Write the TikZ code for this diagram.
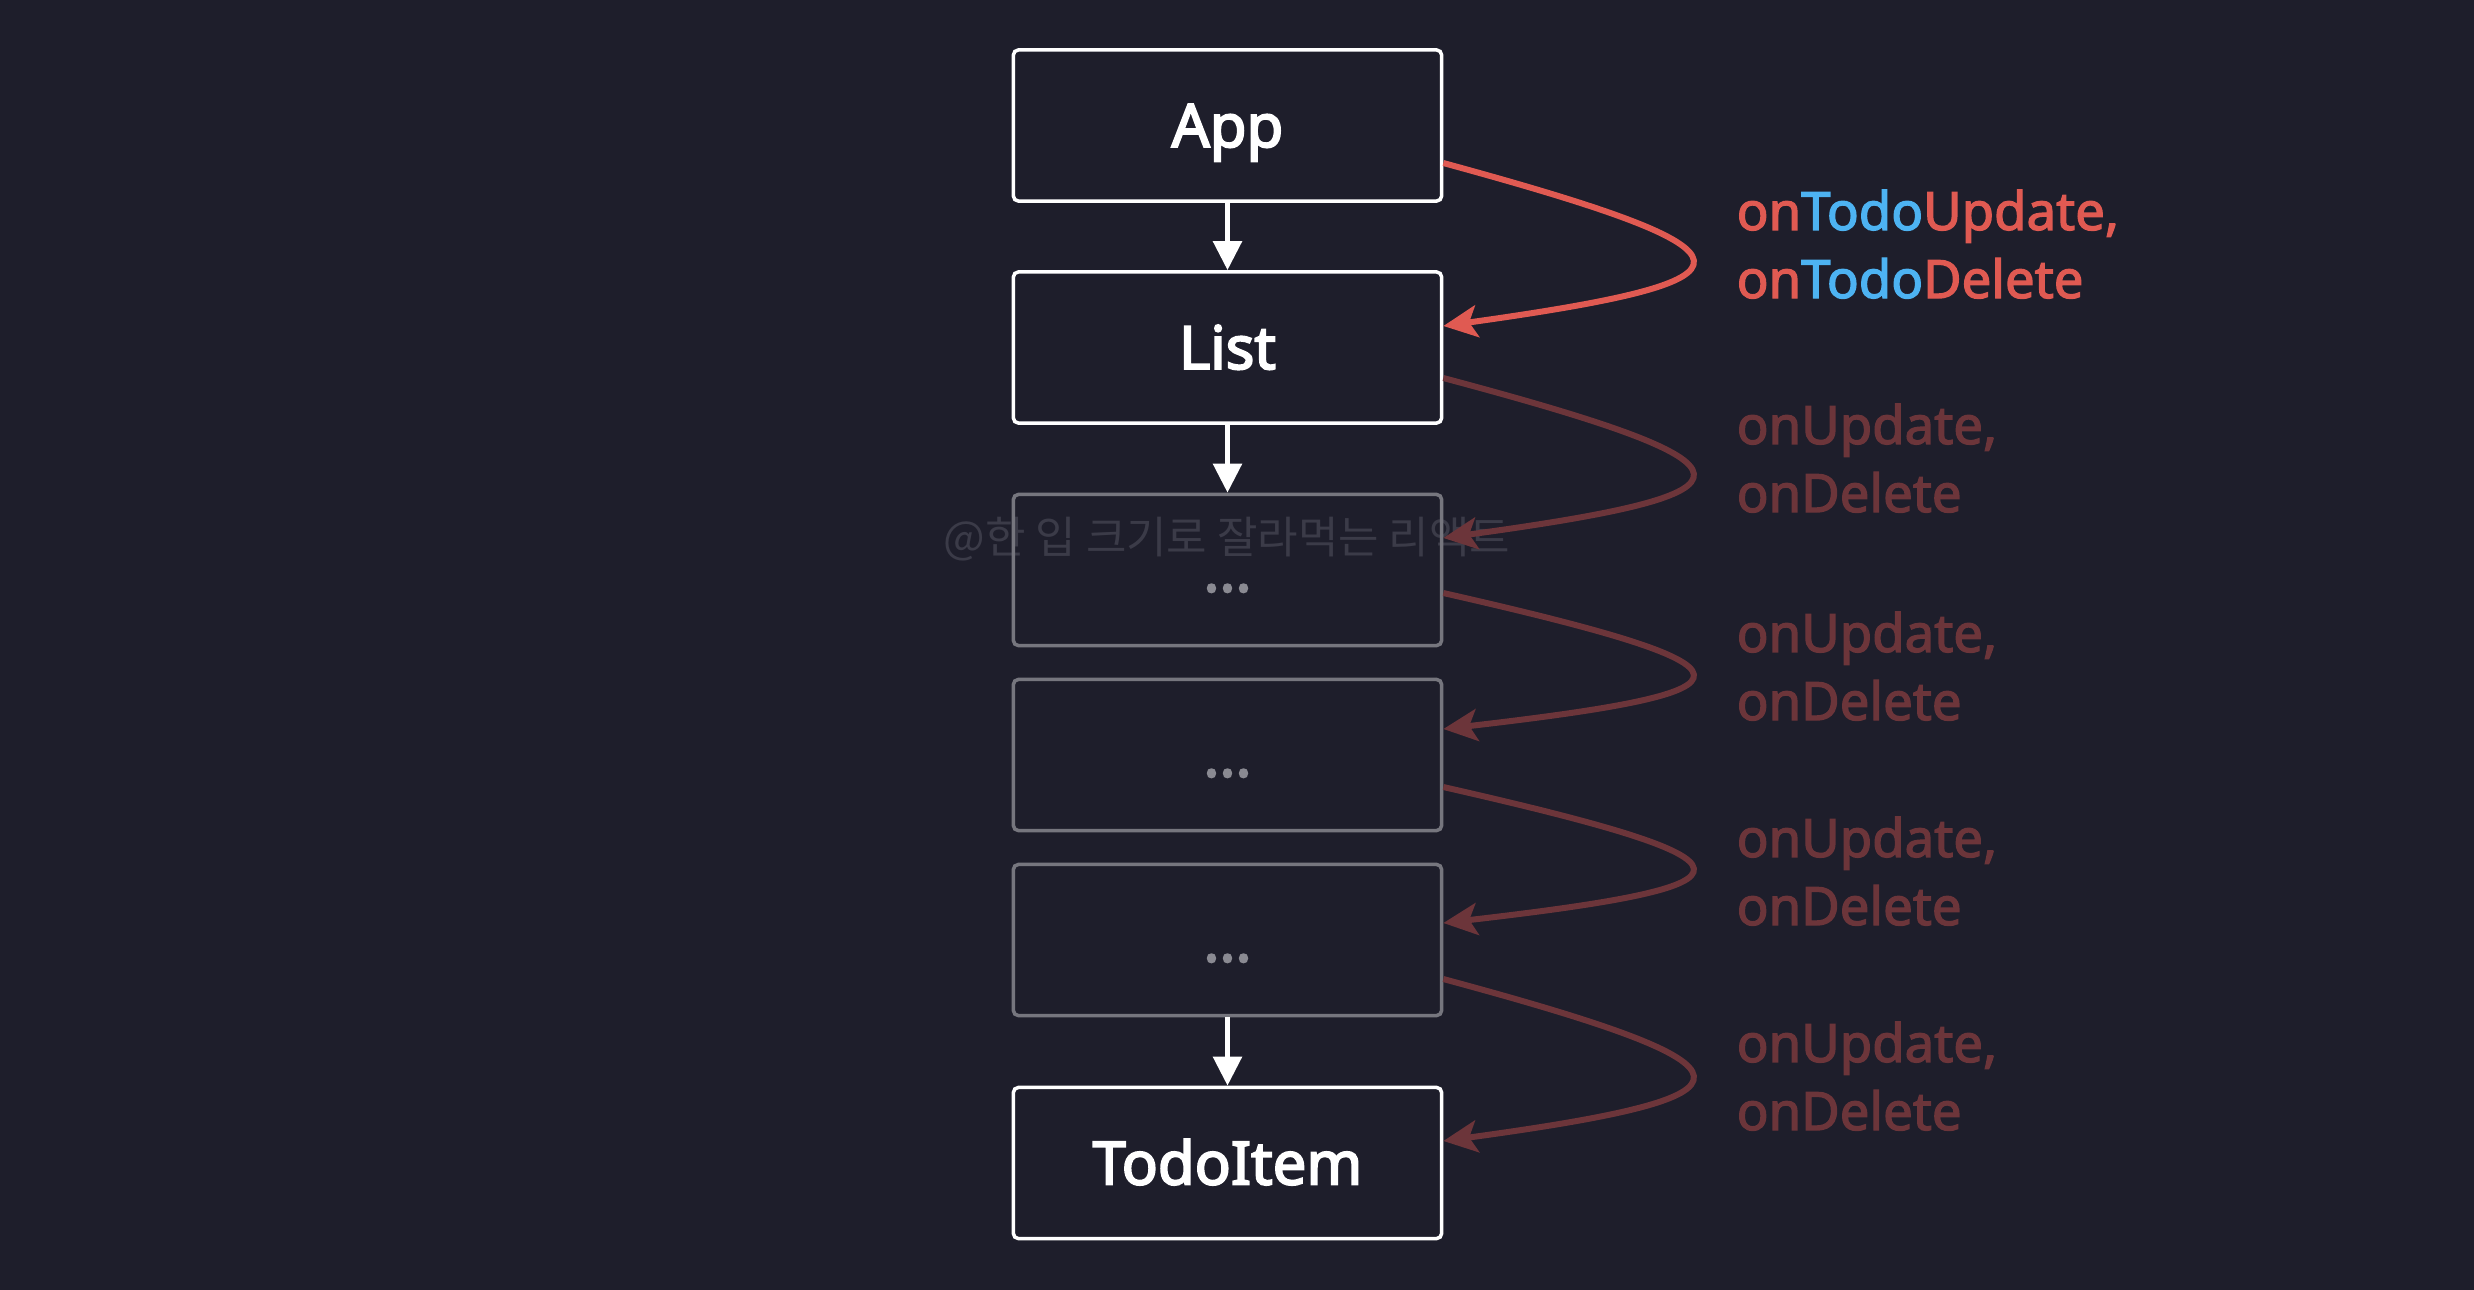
\documentclass[tikz,border=0pt]{standalone}
\usepackage{fontspec}
\setmainfont{Noto Sans}
\newfontfamily\boxfont{Noto Sans}[FakeBold=3.2]
\newfontfamily\labfont{Noto Sans}[FakeBold=2.4]
\newfontfamily\wmfont{Noto Sans CJK KR}
\usetikzlibrary{arrows.meta}
\definecolor{bg}{HTML}{1E1E2B}
\definecolor{lred}{HTML}{E05A52}
\definecolor{lblue}{HTML}{4DB3F2}
\definecolor{dred}{HTML}{6C353A}
\definecolor{gbord}{HTML}{76767E}
\definecolor{gdots}{HTML}{8A8A92}
\definecolor{wmark}{HTML}{3B3B48}
\begin{document}
\begin{tikzpicture}[x=0.01cm,y=-0.01cm,
 comp/.style={draw=white, line width=0.035cm, rounded corners=0.05cm,
   minimum width=4.28cm, minimum height=1.51cm, inner sep=0pt,
   text height=0.43cm, text depth=0pt, font=\boxfont\fontsize{17pt}{20pt}\selectfont, text=white},
 ghost/.style={comp, draw=gbord, text=gdots},
 down/.style={draw=white, line width=0.055cm, -{Triangle[length=0.29cm,width=0.28cm]}},
 pass/.style={draw=lred, line width=0.06cm, -{Stealth[length=0.34cm,width=0.32cm,inset=0.08cm]}},
 passdim/.style={pass, draw=dred},
 lab/.style={anchor=base west, align=left, inner sep=0pt, font=\labfont\fontsize{15pt}{19.35pt}\selectfont},
 wm/.style={font=\wmfont\fontsize{12.5pt}{15pt}\selectfont, text=wmark, inner sep=0pt}
 ]
\fill[bg] (0,0) rectangle (2474,1290);
\useasboundingbox (0,0) rectangle (2474,1290);

\node[wm] (mark) at (1227,539) {@한 입 크기로 잘라먹는 리액트};

\node[comp]  (app)  at (1227.5,125.5) {App};
\node[comp]  (list) at (1227.5,347.5) {List};
\node[ghost] (g1)   at (1227.5,570)   {...};
\node[ghost] (g2)   at (1227.5,755)   {...};
\node[ghost] (g3)   at (1227.5,940)   {...};
\node[comp]  (item) at (1227.5,1163)  {TodoItem};

\draw[down] (app) -- (list);
\draw[down] (list) -- (g1);
\draw[down] (g3) -- (item);

\draw[pass] ([yshift=-0.375cm]app.east) .. controls +(330,90) and +(330,-46) .. ([yshift=0.215cm]list.east);
\draw[passdim] ([yshift=-0.305cm]list.east) .. controls +(330,88) and +(330,-45) .. ([yshift=0.32cm]g1.east);
\draw[passdim] ([yshift=-0.23cm]g1.east) .. controls +(330,75) and +(330,-38) .. ([yshift=0.26cm]g2.east);
\draw[passdim] ([yshift=-0.32cm]g2.east) .. controls +(330,75) and +(330,-38) .. ([yshift=0.17cm]g3.east);
\draw[passdim] ([yshift=-0.39cm]g3.east) .. controls +(330,89) and +(330,-45) .. ([yshift=0.22cm]item.east);

\node[lab, text=lred] (l1) at (1736,298) {on\textcolor{lblue}{Todo}Update,\\on\textcolor{lblue}{Todo}Delete};
\node[lab, text=dred] (l2) at (1736,512) {onUpdate,\\onDelete};
\node[lab, text=dred] (l3) at (1736,720) {onUpdate,\\onDelete};
\node[lab, text=dred] (l4) at (1736,925) {onUpdate,\\onDelete};
\node[lab, text=dred] (l5) at (1736,1130) {onUpdate,\\onDelete};
\end{tikzpicture}
\end{document}
